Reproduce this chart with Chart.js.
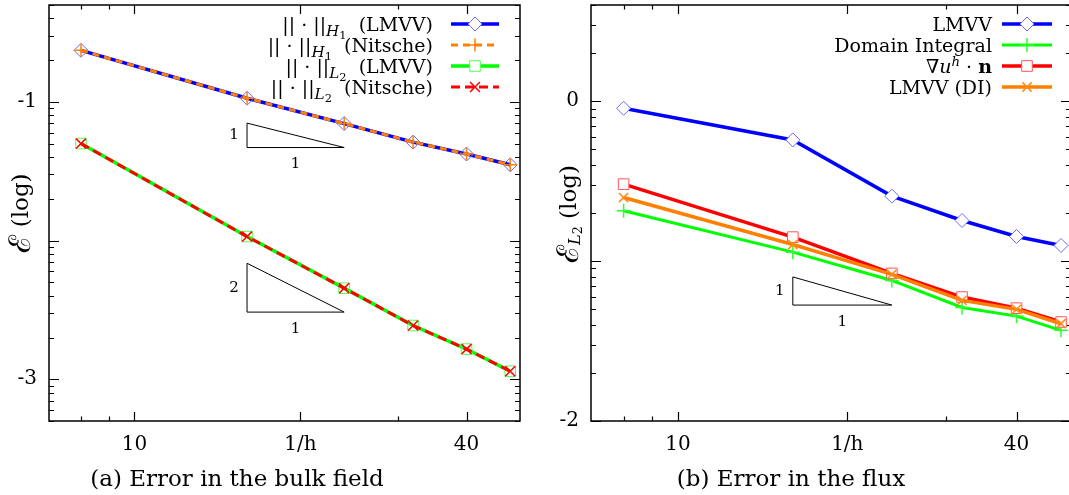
<!DOCTYPE html>
<html>
<head>
<meta charset="utf-8">
<script src="https://cdn.jsdelivr.net/npm/chart.js@4.4.0/dist/chart.umd.min.js"></script>
<style>
    html, body { margin: 0; padding: 0; background: #fff; overflow: hidden; width: 1069px; height: 495px; }
    #bulk { position: absolute; left: 0; top: 0; }
    #flux { position: absolute; left: 530px; top: 0; }
</style>
</head>
<body>
<canvas id="bulk" width="530" height="495"></canvas>
<canvas id="flux" width="545" height="495"></canvas>
<script>
// mesh refinement 1/h
var meshSizes = [8, 16, 24, 32, 40, 48];

// (a) error in the bulk field
var h1Lmvv    = [0.2355, 0.1063, 0.0698, 0.0513, 0.0421, 0.0352];
var h1Nitsche = [0.2355, 0.1063, 0.0698, 0.0513, 0.0421, 0.0352];
var l2Lmvv    = [0.0501, 0.01069, 0.00454, 0.00244, 0.00165, 0.001143];
var l2Nitsche = [0.0501, 0.01069, 0.00454, 0.00244, 0.00165, 0.001143];

// (b) error in the flux
var fluxLmvv   = [0.904, 0.573, 0.255, 0.1795, 0.1426, 0.1253];
var fluxDomain = [0.2064, 0.1138, 0.0757, 0.0513, 0.0453, 0.0369];
var fluxGrad   = [0.303, 0.1413, 0.0838, 0.0596, 0.0508, 0.0416];
var fluxLmvvDi = [0.250, 0.127, 0.0826, 0.0568, 0.0499, 0.0406];

// axes
var xTickValues = [8, 9, 10, 20, 30, 40];
var xTickLabels = ['', '', '10', '1/h', '', '40'];
var xMajor      = [10, 20, 40];
var bulkYLabels = [-1, -3];   // log10 exponents that get a label
var fluxYLabels = [0, -2];

// slope triangles: run from..to, base value, order
var bulkSlopes = [
    { from: 16, to: 24, base: 0.0469, order: 1, rise: '1', run: '1' },
    { from: 16, to: 24, base: 0.00305, order: 2, rise: '2', run: '1' }
];
var fluxSlopes = [
    { from: 16, to: 24, base: 0.0531, order: 1, rise: '1', run: '1' }
];

var FONT = "'DejaVu Serif', serif";
Chart.defaults.font.family = FONT;
Chart.defaults.color = '#000';

function pts(arr) {
    return meshSizes.map(function (x, i) { return { x: x, y: arr[i] }; });
}

function logTicks(min, max) {
    var out = [];
    for (var e = Math.floor(Math.log10(min)); e <= Math.ceil(Math.log10(max)); e++) {
        for (var m = 1; m < 10; m++) {
            var v = m * Math.pow(10, e);
            if (v >= min * 0.999 && v <= max * 1.001) out.push({ value: v, major: m === 1 });
        }
    }
    return out;
}

function font(size, style) {
    return (style || '') + ' ' + size + 'px ' + FONT;
}

// text made of parts (italic, sub/superscript), measured and drawn left to right
function richWidth(ctx, parts, size) {
    var w = 0;
    parts.forEach(function (p) {
        ctx.font = font(size * (p.k || 1), p.s);
        w += ctx.measureText(p.t).width;
    });
    return w;
}
function drawRich(ctx, parts, x, y, size) {
    parts.forEach(function (p) {
        ctx.font = font(size * (p.k || 1), p.s);
        ctx.fillText(p.t, x, y + (p.dy || 0));
        x += ctx.measureText(p.t).width;
    });
}

function drawMarker(ctx, ds, x, y, fill) {
    ctx.save();
    ctx.setLineDash([]);
    ctx.strokeStyle = ds.pointBorderColor;
    ctx.fillStyle = fill || ds.pointBackgroundColor;
    ctx.lineWidth = ds.pointBorderWidth;
    Chart.helpers.drawPoint(ctx, {
        pointStyle: ds.pointStyle, radius: ds.pointRadius,
        borderWidth: ds.pointBorderWidth, rotation: 0
    }, x, y);
    ctx.restore();
}

function makeFrame(spec) {
    return {
        id: 'frame',
        beforeDatasetsDraw: function (chart) {
            var ctx = chart.ctx, a = chart.chartArea;
            var xs = chart.scales.x, ys = chart.scales.y;
            ctx.save();
            ctx.strokeStyle = '#000';
            ctx.lineWidth = 1.2;
            ctx.beginPath();
            xs.ticks.forEach(function (t) {
                var p = Math.round(xs.getPixelForValue(t.value)) + 0.5;
                var len = t.major ? 9 : 4.5;
                ctx.moveTo(p, a.bottom); ctx.lineTo(p, a.bottom - len);
                ctx.moveTo(p, a.top); ctx.lineTo(p, a.top + len);
            });
            ys.ticks.forEach(function (t) {
                var p = Math.round(ys.getPixelForValue(t.value)) + 0.5;
                var len = t.major ? 10 : 5;
                ctx.moveTo(a.left, p); ctx.lineTo(a.left + len, p);
                ctx.moveTo(a.right, p); ctx.lineTo(a.right - len, p);
            });
            ctx.stroke();

            // slope triangles
            ctx.lineWidth = 1;
            ctx.fillStyle = '#000';
            ctx.font = font(15);
            spec.slopes.forEach(function (s) {
                var x0 = xs.getPixelForValue(s.from), x1 = xs.getPixelForValue(s.to);
                var y0 = ys.getPixelForValue(s.base);
                var y1 = ys.getPixelForValue(s.base * Math.pow(s.to / s.from, s.order));
                ctx.beginPath();
                ctx.moveTo(x0, y1); ctx.lineTo(x0, y0); ctx.lineTo(x1, y0); ctx.closePath();
                ctx.stroke();
                ctx.textAlign = 'center';
                ctx.textBaseline = 'middle';
                ctx.fillText(s.rise, x0 - 13, (y0 + y1) / 2);
                ctx.fillText(s.run, (x0 + x1) / 2, y0 + 17);
            });

            ctx.lineWidth = 1.5;
            ctx.strokeRect(a.left, a.top, a.width, a.height);
            ctx.restore();
        },
        afterDraw: function (chart) {
            var ctx = chart.ctx;
            ctx.save();
            ctx.fillStyle = '#000';
            ctx.textBaseline = 'alphabetic';
            ctx.textAlign = 'left';
            // key
            var L = spec.legend;
            L.rows.forEach(function (row, i) {
                var ds = chart.data.datasets[row.ds];
                var y = L.y0 + i * L.dy;
                ctx.save();
                ctx.strokeStyle = ds.borderColor;
                ctx.lineWidth = ds.borderWidth;
                ctx.setLineDash(ds.borderDash || []);
                ctx.beginPath();
                ctx.moveTo(L.lineFrom, y); ctx.lineTo(L.lineTo, y);
                ctx.stroke();
                ctx.restore();
                drawMarker(ctx, ds, (L.lineFrom + L.lineTo) / 2, y, '#fff');
                var w = richWidth(ctx, row.parts, L.size);
                drawRich(ctx, row.parts, L.textRight - w, y + 7, L.size);
            });
            // caption
            ctx.textAlign = 'center';
            ctx.font = font(23);
            ctx.fillText(spec.caption.text, spec.caption.x, spec.caption.y);
            // y title
            ctx.save();
            ctx.translate(spec.title.x, spec.title.y);
            ctx.rotate(-Math.PI / 2);
            ctx.textAlign = 'left';
            ctx.textBaseline = 'middle';
            var tw = richWidth(ctx, spec.title.parts, 23);
            drawRich(ctx, spec.title.parts, -tw / 2, 0, 23);
            ctx.restore();
            ctx.restore();
        }
    };
}

function baseOptions(yMin, yMax, yLabels, yWidth, padRight) {
    return {
        responsive: false,
        animation: false,
        devicePixelRatio: 1,
        layout: { autoPadding: false, padding: { top: 5, left: 0, right: padRight, bottom: 0 } },
        plugins: { legend: { display: false }, tooltip: { enabled: false } },
        elements: { line: { tension: 0 } },
        scales: {
            x: {
                type: 'logarithmic',
                min: 7, max: 50,
                grid: { display: false, drawTicks: false },
                border: { display: false },
                afterBuildTicks: function (s) {
                    s.ticks = xTickValues.map(function (v) {
                        return { value: v, major: xMajor.indexOf(v) >= 0 };
                    });
                },
                afterFit: function (s) { s.height = 74; s.paddingLeft = 0; s.paddingRight = 0; },
                ticks: {
                    autoSkip: false, maxRotation: 0, minRotation: 0, padding: 12,
                    font: { size: 20 },
                    callback: function (v) {
                        var i = xTickValues.indexOf(v);
                        return i >= 0 ? xTickLabels[i] : '';
                    }
                }
            },
            y: {
                type: 'logarithmic',
                min: yMin, max: yMax,
                grid: { display: false, drawTicks: false },
                border: { display: false },
                afterBuildTicks: function (s) { s.ticks = logTicks(yMin, yMax); },
                afterFit: function (s) { s.width = yWidth; s.paddingTop = 0; s.paddingBottom = 0; },
                ticks: {
                    autoSkip: false, padding: 12,
                    font: { size: 20 },
                    callback: function (v) {
                        var e = Math.log10(v);
                        if (Math.abs(e - Math.round(e)) > 1e-6) return '';
                        e = Math.round(e);
                        return yLabels.indexOf(e) >= 0 ? String(e) : '';
                    }
                }
            }
        }
    };
}

// (a)
new Chart(document.getElementById('bulk'), {
    type: 'line',
    data: {
        datasets: [
            { label: 'H1 (LMVV)', data: pts(h1Lmvv), order: 4,
              borderColor: '#0000ff', borderWidth: 3.5,
              pointStyle: 'rectRot', pointRadius: 7, pointBorderWidth: 1,
              pointBorderColor: '#6a6aff', pointBackgroundColor: 'rgba(0,0,0,0)' },
            { label: 'H1 (Nitsche)', data: pts(h1Nitsche), order: 3,
              borderColor: '#ff8000', borderWidth: 3, borderDash: [7, 5],
              pointStyle: 'cross', pointRadius: 6.5, pointBorderWidth: 1.5,
              pointBorderColor: '#ff8000', pointBackgroundColor: '#ff8000' },
            { label: 'L2 (LMVV)', data: pts(l2Lmvv), order: 2,
              borderColor: '#00ff00', borderWidth: 3.5,
              pointStyle: 'rect', pointRadius: 7.5, pointBorderWidth: 1,
              pointBorderColor: '#55ff55', pointBackgroundColor: 'rgba(0,0,0,0)' },
            { label: 'L2 (Nitsche)', data: pts(l2Nitsche), order: 1,
              borderColor: '#ff0000', borderWidth: 3, borderDash: [9, 5],
              pointStyle: 'crossRot', pointRadius: 7, pointBorderWidth: 1.5,
              pointBorderColor: '#ff0000', pointBackgroundColor: '#ff0000' }
        ]
    },
    options: baseOptions(0.0005, 0.5, bulkYLabels, 49, 10),
    plugins: [makeFrame({
        slopes: bulkSlopes,
        caption: { text: '(a) Error in the bulk field', x: 237, y: 486 },
        title: { x: 22, y: 213, parts: [{ t: 'ℰ', k: 1.3 }, { t: ' (log)' }] },
        legend: {
            y0: 24, dy: 21, lineFrom: 451, lineTo: 499, textRight: 433, size: 19,
            rows: [
                { ds: 0, parts: [{ t: '|| · ||' }, { t: 'H', s: 'italic', k: 0.8, dy: 5 }, { t: '1', k: 0.6, dy: 8 }, { t: '  (LMVV)' }] },
                { ds: 1, parts: [{ t: '|| · ||' }, { t: 'H', s: 'italic', k: 0.8, dy: 5 }, { t: '1', k: 0.6, dy: 8 }, { t: '  (Nitsche)' }] },
                { ds: 2, parts: [{ t: '|| · ||' }, { t: 'L', s: 'italic', k: 0.8, dy: 5 }, { t: '2', k: 0.6, dy: 8 }, { t: '  (LMVV)' }] },
                { ds: 3, parts: [{ t: '|| · ||' }, { t: 'L', s: 'italic', k: 0.8, dy: 5 }, { t: '2', k: 0.6, dy: 8 }, { t: '  (Nitsche)' }] }
            ]
        }
    })]
});

// (b)
new Chart(document.getElementById('flux'), {
    type: 'line',
    data: {
        datasets: [
            { label: 'LMVV', data: pts(fluxLmvv), order: 4,
              borderColor: '#0000ff', borderWidth: 3.5,
              pointStyle: 'rectRot', pointRadius: 7, pointBorderWidth: 1,
              pointBorderColor: '#6a6aff', pointBackgroundColor: '#fff' },
            { label: 'Domain Integral', data: pts(fluxDomain), order: 3,
              borderColor: '#00ff00', borderWidth: 3,
              pointStyle: 'cross', pointRadius: 7, pointBorderWidth: 1.5,
              pointBorderColor: '#33ff33', pointBackgroundColor: '#33ff33' },
            { label: 'grad u . n', data: pts(fluxGrad), order: 2,
              borderColor: '#ff0000', borderWidth: 3.5,
              pointStyle: 'rect', pointRadius: 7.5, pointBorderWidth: 1,
              pointBorderColor: '#ff5555', pointBackgroundColor: '#fff' },
            { label: 'LMVV (DI)', data: pts(fluxLmvvDi), order: 1,
              borderColor: '#ff8000', borderWidth: 3.5,
              pointStyle: 'crossRot', pointRadius: 6.5, pointBorderWidth: 1.5,
              pointBorderColor: '#ff8a1a', pointBackgroundColor: '#ff8a1a' }
        ]
    },
    options: baseOptions(0.01, 4, fluxYLabels, 61, 4),
    plugins: [makeFrame({
        slopes: fluxSlopes,
        caption: { text: '(b) Error in the flux', x: 261, y: 486 },
        title: { x: 40, y: 214, parts: [{ t: 'ℰ', k: 1.3 }, { t: 'L', s: 'italic', k: 0.7, dy: 6 }, { t: '2', k: 0.55, dy: 9 }, { t: ' (log)' }] },
        legend: {
            y0: 24, dy: 21, lineFrom: 472, lineTo: 522, textRight: 462, size: 19,
            rows: [
                { ds: 0, parts: [{ t: 'LMVV' }] },
                { ds: 1, parts: [{ t: 'Domain Integral' }] },
                { ds: 2, parts: [{ t: '∇' }, { t: 'u', s: 'italic' }, { t: 'h', s: 'italic', k: 0.7, dy: -7 }, { t: ' · ' }, { t: 'n', s: 'bold' }] },
                { ds: 3, parts: [{ t: 'LMVV (DI)' }] }
            ]
        }
    })]
});
</script>
</body>
</html>
